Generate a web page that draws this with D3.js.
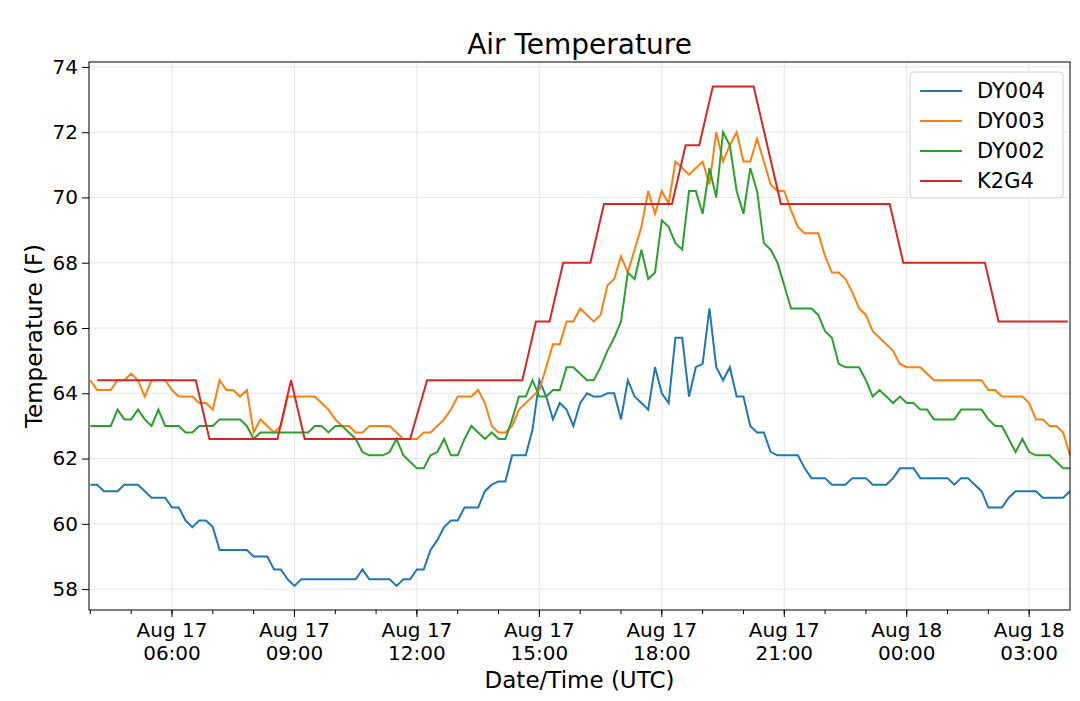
<!DOCTYPE html>
<html>
<head>
<meta charset="utf-8">
<script src="https://cdn.jsdelivr.net/npm/d3@7"></script>
<style>
  body { margin: 0; background: #fff; }
  text { font-family: "DejaVu Sans", sans-serif; }
</style>
</head>
<body>
<svg id="chart" width="1080" height="701"></svg>
<script>
// Readings every 10 minutes starting Aug 17 04:00 UTC
const startTime = new Date(Date.UTC(2019, 7, 17, 4, 0))
const stepMinutes = 10

const dy004 = [
  61.2,61.2,61.0,61.0,61.0,61.2, 61.2,61.2,61.0,60.8,60.8,60.8,
  60.5,60.5,60.1,59.9,60.1,60.1, 59.9,59.2,59.2,59.2,59.2,59.2,
  59.0,59.0,59.0,58.6,58.6,58.3, 58.1,58.3,58.3,58.3,58.3,58.3,
  58.3,58.3,58.3,58.3,58.6,58.3, 58.3,58.3,58.3,58.1,58.3,58.3,
  58.6,58.6,59.2,59.5,59.9,60.1, 60.1,60.5,60.5,60.5,61.0,61.2,
  61.3,61.3,62.1,62.1,62.1,62.9, 64.4,63.9,63.2,63.7,63.5,63.0,
  63.7,64.0,63.9,63.9,64.0,64.0, 63.2,64.4,63.9,63.7,63.5,64.8,
  64.0,63.7,65.7,65.7,63.9,64.8, 64.9,66.6,64.8,64.4,64.8,63.9,
  63.9,63.0,62.8,62.8,62.2,62.1, 62.1,62.1,62.1,61.7,61.4,61.4,
  61.4,61.2,61.2,61.2,61.4,61.4, 61.4,61.2,61.2,61.2,61.4,61.7,
  61.7,61.7,61.4,61.4,61.4,61.4, 61.4,61.2,61.4,61.4,61.2,61.0,
  60.5,60.5,60.5,60.8,61.0,61.0, 61.0,61.0,60.8,60.8,60.8,60.8, 61.0
]
const dy003 = [
  64.4,64.1,64.1,64.1,64.4,64.4, 64.6,64.4,63.9,64.4,64.4,64.4,
  64.1,63.9,63.9,63.9,63.7,63.7, 63.5,64.4,64.1,64.1,63.9,64.1,
  62.8,63.2,63.0,62.8,63.0,63.9, 63.9,63.9,63.9,63.9,63.7,63.5,
  63.2,63.0,63.0,62.8,62.8,63.0, 63.0,63.0,63.0,62.8,62.6,62.6,
  62.6,62.8,62.8,63.0,63.2,63.5, 63.9,63.9,63.9,64.1,63.7,63.0,
  62.8,62.8,63.0,63.5,63.7,63.9, 64.1,64.8,65.5,65.5,66.2,66.2,
  66.6,66.4,66.2,66.4,67.3,67.5, 68.2,67.7,68.4,69.1,70.2,69.5,
  70.2,69.8,71.1,70.9,70.7,70.9, 71.1,70.4,72.0,71.1,71.6,72.0,
  71.1,71.1,71.8,71.1,70.4,70.2, 70.2,69.6,69.1,68.9,68.9,68.9,
  68.2,67.7,67.7,67.5,67.1,66.6, 66.4,65.9,65.7,65.5,65.3,64.9,
  64.8,64.8,64.8,64.6,64.4,64.4, 64.4,64.4,64.4,64.4,64.4,64.4,
  64.1,64.1,63.9,63.9,63.9,63.9, 63.7,63.2,63.2,63.0,63.0,62.8, 62.1
]
const dy002 = [
  63.0,63.0,63.0,63.0,63.5,63.2, 63.2,63.5,63.2,63.0,63.5,63.0,
  63.0,63.0,62.8,62.8,63.0,63.0, 63.0,63.2,63.2,63.2,63.2,63.0,
  62.6,62.8,62.8,62.8,62.8,62.8, 62.8,62.8,62.8,63.0,63.0,62.8,
  63.0,63.0,62.8,62.6,62.2,62.1, 62.1,62.1,62.2,62.6,62.1,61.9,
  61.7,61.7,62.1,62.2,62.6,62.1, 62.1,62.6,63.0,62.8,62.6,62.8,
  62.6,62.6,63.2,63.9,63.9,64.4, 63.9,63.9,64.1,64.1,64.8,64.8,
  64.6,64.4,64.4,64.8,65.3,65.7, 66.2,67.7,67.5,68.4,67.5,67.7,
  69.3,69.1,68.6,68.4,70.2,70.2, 69.5,70.9,70.0,72.0,71.6,70.2,
  69.5,70.9,70.2,68.6,68.4,68.0, 67.3,66.6,66.6,66.6,66.6,66.4,
  65.9,65.7,64.9,64.8,64.8,64.8, 64.4,63.9,64.1,63.9,63.7,63.9,
  63.7,63.7,63.5,63.5,63.2,63.2, 63.2,63.2,63.5,63.5,63.5,63.5,
  63.2,63.0,63.0,62.6,62.2,62.6, 62.2,62.1,62.1,62.1,61.9,61.7, 61.7
]
// K2G4 reports irregularly: [minutes after start, value]
const k2g4 = [
  [10,64.4],[155,64.4],[175,62.6],[275,62.6],[295,64.4],[315,62.6],
  [470,62.6],[495,64.4],[635,64.4],[655,66.2],[675,66.2],[695,68.0],
  [735,68.0],[755,69.8],[855,69.8],[875,71.6],[895,71.6],[915,73.4],
  [975,73.4],[1015,69.8],[1175,69.8],[1195,68.0],[1315,68.0],[1335,66.2],
  [1437,66.2]
]

const seriesNames = ['DY004', 'DY003', 'DY002', 'K2G4']
const seriesColors = ['#1f77b4', '#ff7f0e', '#2ca02c', '#d62728']
const yTicks = [58, 60, 62, 64, 66, 68, 70, 72, 74]

const toTime = m => new Date(startTime.getTime() + m * 60000)
const regular = arr => arr.map((v, i) => ({ t: toTime(i * stepMinutes), v }))
const series = [
  regular(dy004), regular(dy003), regular(dy002),
  k2g4.map(([m, v]) => ({ t: toTime(m), v })),
]

const svg = d3.select('#chart')
const margin = { left: 89, right: 10, top: 62, bottom: 91 }
const width = 1080 - margin.left - margin.right
const height = 701 - margin.top - margin.bottom

const x = d3.scaleUtc()
    .domain([toTime(-2), toTime(1440)])
    .range([0, width])
const y = d3.scaleLinear()
    .domain([57.36, 74.15])
    .range([height, 0])

const g = svg.append('g')
    .attr('transform', `translate(${margin.left},${margin.top})`)

const majorX = d3.utcHour.every(3).range(x.domain()[0], x.domain()[1])
const minorX = d3.utcHour.every(1).range(x.domain()[0], x.domain()[1])

// grid
g.append('g').selectAll('line').data(majorX).join('line')
    .attr('x1', d => x(d)).attr('x2', d => x(d))
    .attr('y1', 0).attr('y2', height)
    .attr('stroke', '#e6e6e6').attr('stroke-width', 1)
g.append('g').selectAll('line').data(yTicks).join('line')
    .attr('x1', 0).attr('x2', width)
    .attr('y1', d => y(d)).attr('y2', d => y(d))
    .attr('stroke', '#e6e6e6').attr('stroke-width', 1)

// lines
const line = d3.line().x(d => x(d.t)).y(d => y(d.v))
g.append('g').selectAll('path').data(series).join('path')
    .attr('d', line)
    .attr('fill', 'none')
    .attr('stroke', (d, i) => seriesColors[i])
    .attr('stroke-width', 2)

// axes
const fmtDay = d3.utcFormat('%b %d')
const fmtHour = d3.utcFormat('%H:%M')
const xAxis = g.append('g').attr('transform', `translate(0,${height})`)
xAxis.selectAll('.minor').data(minorX).join('line')
    .attr('x1', d => x(d)).attr('x2', d => x(d))
    .attr('y1', 0).attr('y2', 4).attr('stroke', '#000')
xAxis.selectAll('.major').data(majorX).join('line')
    .attr('x1', d => x(d)).attr('x2', d => x(d))
    .attr('y1', 0).attr('y2', 7).attr('stroke', '#000')
const xLabels = xAxis.selectAll('text').data(majorX).join('text')
    .attr('text-anchor', 'middle')
    .attr('font-size', 20)
xLabels.append('tspan').attr('x', d => x(d)).attr('y', 27).text(d => fmtDay(d))
xLabels.append('tspan').attr('x', d => x(d)).attr('y', 50).text(d => fmtHour(d))

g.append('g')
    .call(d3.axisLeft(y).tickValues(yTicks).tickSize(7).tickPadding(4))
    .call(a => a.select('.domain').remove())
    .call(a => a.selectAll('text').attr('font-size', 20)
        .attr('font-family', '"DejaVu Sans", sans-serif').attr('fill', '#000'))

g.append('rect')
    .attr('width', width).attr('height', height)
    .attr('fill', 'none').attr('stroke', '#000').attr('stroke-width', 1)

// titles
svg.append('text').attr('x', margin.left + width / 2).attr('y', 54)
    .attr('text-anchor', 'middle').attr('font-size', 28).text('Air Temperature')
svg.append('text').attr('x', margin.left + width / 2).attr('y', 688)
    .attr('text-anchor', 'middle').attr('font-size', 23).text('Date/Time (UTC)')
svg.append('text')
    .attr('transform', `translate(42,${margin.top + height / 2}) rotate(-90)`)
    .attr('text-anchor', 'middle').attr('font-size', 23).text('Temperature (F)')

// legend
const legend = svg.append('g').attr('transform', 'translate(910,72)')
legend.append('rect')
    .attr('width', 153).attr('height', 126).attr('rx', 4)
    .attr('fill', '#fff').attr('stroke', '#d0d0d0')
seriesNames.forEach((name, i) => {
  const ly = 19 + i * 30
  legend.append('line')
      .attr('x1', 10).attr('x2', 52).attr('y1', ly).attr('y2', ly)
      .attr('stroke', seriesColors[i]).attr('stroke-width', 2)
  legend.append('text').attr('x', 67).attr('y', ly + 7)
      .attr('font-size', 21).text(name)
})
</script>
</body>
</html>
